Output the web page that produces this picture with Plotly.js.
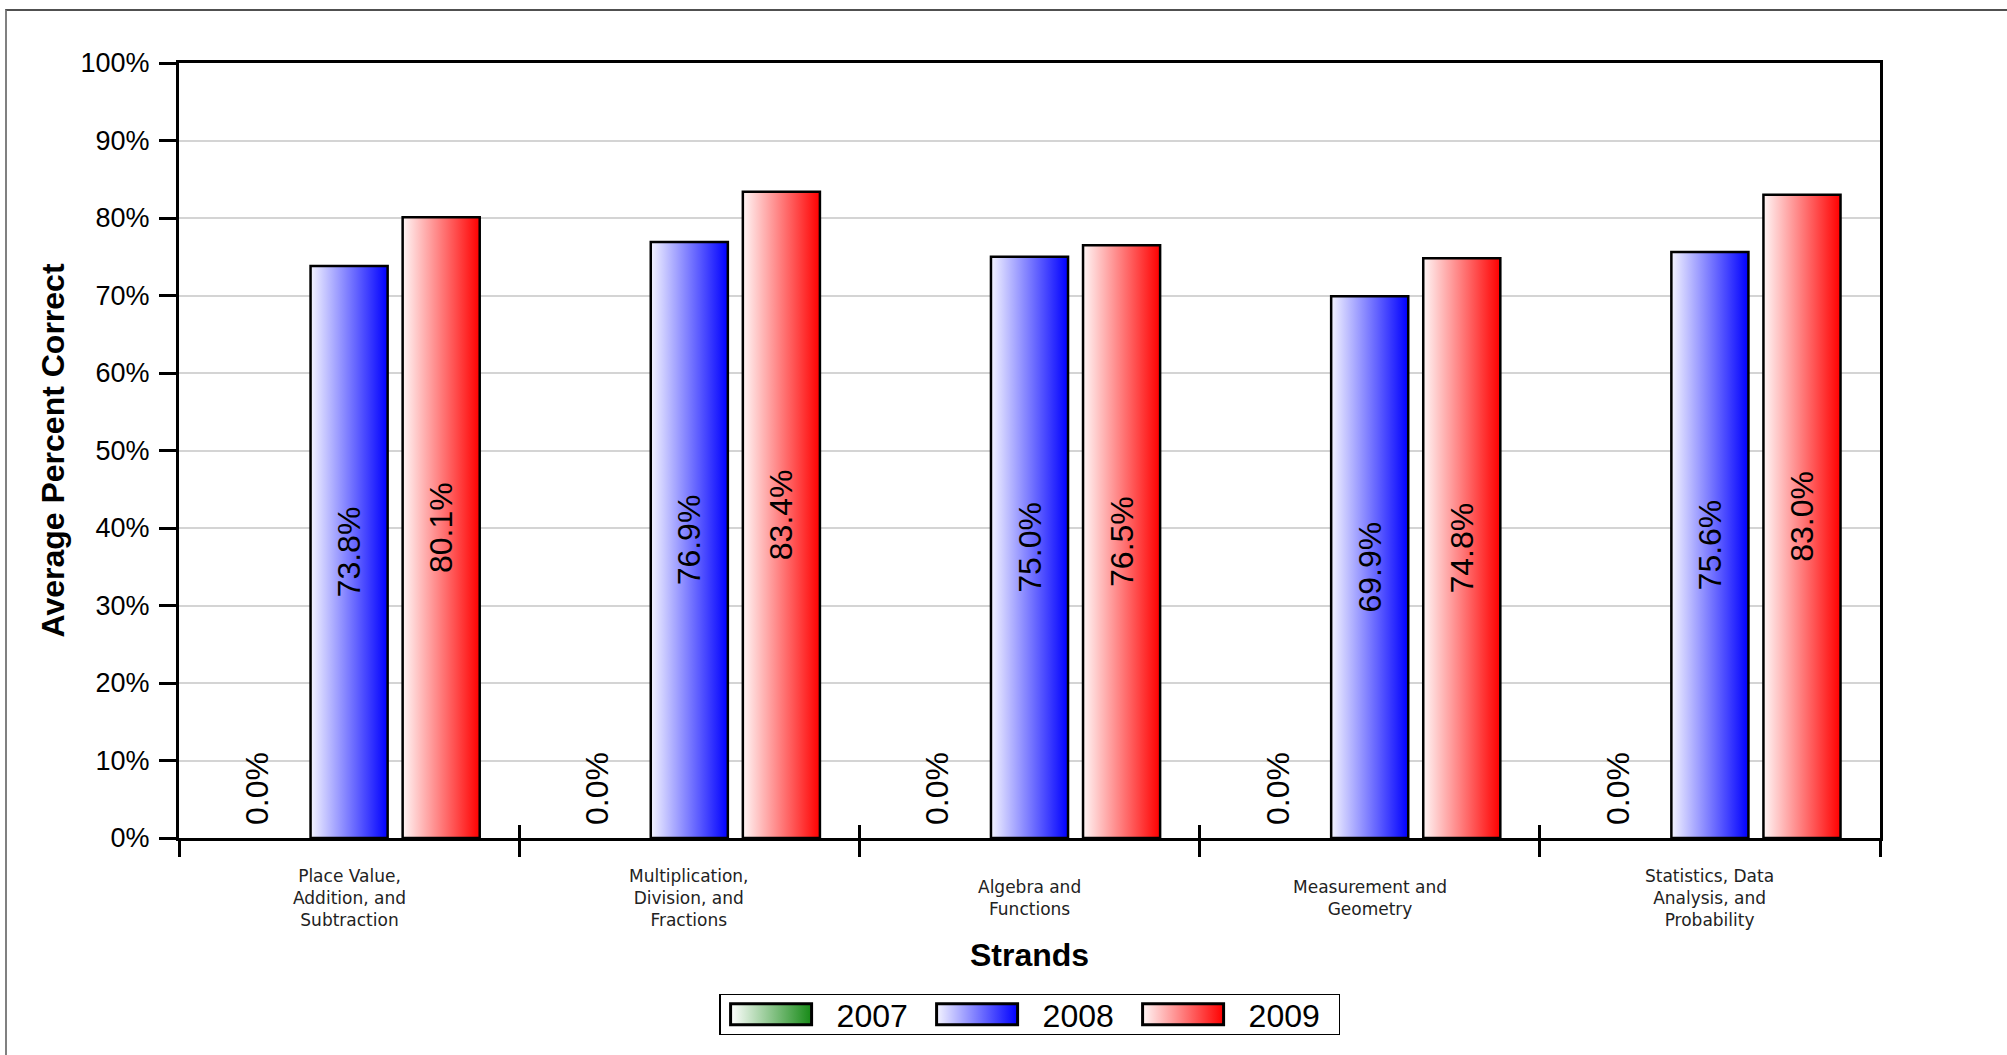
<!DOCTYPE html>
<html>
<head>
<meta charset="utf-8">
<script src="https://cdn.plot.ly/plotly-3.0.1.min.js"></script>
<style>
  html, body { margin: 0; padding: 0; background: #fff; overflow: hidden; }
  #chart { width: 2007px; height: 1055px; position: relative; }
  #frame { position: absolute; left: 5px; top: 9px; width: 2100px; height: 1200px;
           border-left: 2px solid #808080; border-top: 2px solid #505050; pointer-events: none; }
</style>
</head>
<body>
<div id="chart"></div>
<div id="frame"></div>
<script>
// ---- data ----
const categories = [
  "Place Value, Addition, and Subtraction",
  "Multiplication, Division, and Fractions",
  "Algebra and Functions",
  "Measurement and Geometry",
  "Statistics, Data Analysis, and Probability"
];
const categoryLabels = [
  "Place Value,<br>Addition, and<br>Subtraction",
  "Multiplication,<br>Division, and<br>Fractions",
  "Algebra and<br>Functions",
  "Measurement and<br>Geometry",
  "Statistics, Data<br>Analysis, and<br>Probability"
];
const seriesNames = ["2007", "2008", "2009"];
const values2007 = [0.0, 0.0, 0.0, 0.0, 0.0];
const values2008 = [73.8, 76.9, 75.0, 69.9, 75.6];
const values2009 = [80.1, 83.4, 76.5, 74.8, 83.0];
const yTickVals = [0, 10, 20, 30, 40, 50, 60, 70, 80, 90, 100];
const yTickText = ["0%", "10%", "20%", "30%", "40%", "50%", "60%", "70%", "80%", "90%", "100%"];

// ---- styles ----
const FONT = "Liberation Sans, Arial, sans-serif";
const CAT_FONT = "DejaVu Sans, Verdana, sans-serif";
const baseColors = ["#168a16", "#0000ff", "#ff0000"];
const gradIds = ["grad2007", "grad2008", "grad2009"];
const gradStart = ["#ffffff", "#f4f4ff", "#fff6f6"];
const outlineWidths = [0, 2.5, 2.5];

function barTrace(i, vals, textpos) {
  return {
    type: "bar",
    name: seriesNames[i],
    x: categories,
    y: vals,
    marker: { color: baseColors[i], line: { color: "#000", width: outlineWidths[i] } },
    texttemplate: "%{y:.1f}%",
    textposition: textpos,
    insidetextanchor: "middle",
    textangle: -90,
    constraintext: "none",
    cliponaxis: false,
    textfont: { family: FONT, size: 32, color: "#000" },
    insidetextfont: { family: FONT, size: 32, color: "#000" },
    outsidetextfont: { family: FONT, size: 32, color: "#000" },
    hoverinfo: "skip"
  };
}

const traces = [
  barTrace(0, values2007, "outside"),
  barTrace(1, values2008, "inside"),
  barTrace(2, values2009, "inside"),
  // carrier for the upper half of the crossing category ticks (draws nothing)
  { type: "scatter", mode: "none", x: categories, y: values2007, xaxis: "x2", yaxis: "y",
    showlegend: false, hoverinfo: "skip" }
];

const annotations = categories.map((c, i) => ({
  x: c, xref: "x", y: 0, yref: "paper",
  yshift: -60, yanchor: "middle", xanchor: "center",
  text: categoryLabels[i], showarrow: false, align: "center",
  font: { family: CAT_FONT, size: 17, color: "#222" }
}));

const layout = {
  width: 2007, height: 1055,
  margin: { l: 179, r: 127, t: 63, b: 217 },
  paper_bgcolor: "rgba(0,0,0,0)",
  plot_bgcolor: "#fff",
  barmode: "group",
  bargap: 0.188,
  bargroupgap: 0.163,
  showlegend: true,
  legend: {
    orientation: "h", xref: "container", yref: "container",
    x: 0.513, xanchor: "center", y: 0.0384, yanchor: "middle",
    bgcolor: "#fff", bordercolor: "#000", borderwidth: 1.5,
    font: { family: FONT, size: 32, color: "#000" },
    itemwidth: 106, entrywidth: 85, traceorder: "normal"
  },
  xaxis: {
    type: "category", categoryarray: categories, range: [-0.5, 4.5],
    showticklabels: false,
    ticks: "outside", tickson: "boundaries", ticklen: 16, tickwidth: 3, tickcolor: "#000",
    showline: true, linecolor: "#000", linewidth: 3, mirror: true,
    showgrid: false, zeroline: false,
    title: { text: "Strands", font: { family: FONT, size: 32, color: "#000", weight: "bold" }, standoff: 104 }
  },
  xaxis2: {
    type: "category", categoryarray: categories, range: [-0.5, 4.5],
    overlaying: "x", anchor: "y", side: "bottom",
    showticklabels: false, showline: false, showgrid: false, zeroline: false,
    ticks: "inside", tickson: "boundaries", ticklen: 13, tickwidth: 3, tickcolor: "#000"
  },
  yaxis: {
    range: [0, 100], tickmode: "array", tickvals: yTickVals, ticktext: yTickText,
    ticks: "outside", ticklen: 17, tickwidth: 3, tickcolor: "#000",
    ticklabelstandoff: 4,
    tickfont: { family: FONT, size: 27, color: "#000" },
    showline: true, linecolor: "#000", linewidth: 3, mirror: true,
    showgrid: true, gridcolor: "#d4d4d4", gridwidth: 2, zeroline: false,
    title: { text: "Average Percent Correct", font: { family: FONT, size: 32, color: "#000", weight: "bold" }, standoff: 7 }
  },
  annotations: annotations
};

const gd = document.getElementById("chart");
Plotly.newPlot(gd, traces, layout, { staticPlot: true, displayModeBar: false }).then(() => {
  const NS = "http://www.w3.org/2000/svg";
  const defs = gd.querySelector("svg.main-svg defs");
  gradIds.forEach((id, i) => {
    const lg = document.createElementNS(NS, "linearGradient");
    lg.setAttribute("id", id);
    lg.setAttribute("x1", "0"); lg.setAttribute("y1", "0");
    lg.setAttribute("x2", "1"); lg.setAttribute("y2", "0");
    const s1 = document.createElementNS(NS, "stop");
    s1.setAttribute("offset", "0"); s1.setAttribute("stop-color", gradStart[i]);
    const s2 = document.createElementNS(NS, "stop");
    s2.setAttribute("offset", "1"); s2.setAttribute("stop-color", baseColors[i]);
    lg.appendChild(s1); lg.appendChild(s2);
    defs.appendChild(lg);
  });
  gd.querySelectorAll(".barlayer .trace").forEach((tr, i) => {
    tr.querySelectorAll(".point path").forEach(p => { p.style.fill = "url(#" + gradIds[i] + ")"; });
    if (i === 0) {
      // lift the outside "0.0%" labels a little off the axis, as in the original
      tr.querySelectorAll(".point text").forEach(t => {
        const tf = t.getAttribute("transform") || "";
        t.setAttribute("transform", "translate(0,-10) " + tf);
      });
    }
  });
  gd.querySelectorAll(".legend .traces").forEach((tr, i) => {
    tr.querySelectorAll("path.legendbar, .legendpoints path").forEach(p => {
      p.setAttribute("d", "M33,10.5H-48V-10.5H33Z");
      p.style.fill = "url(#" + gradIds[i] + ")";
      p.style.stroke = "#000";
      p.style.strokeWidth = "3px";
    });
  });
  // tighten the legend frame to the original's height, keeping it centred
  const bg = gd.querySelector(".legend rect.bg");
  if (bg) {
    const h = parseFloat(bg.getAttribute("height"));
    const y = parseFloat(bg.getAttribute("y") || "0");
    const nh = 40;
    if (h > nh) {
      bg.setAttribute("y", y + (h - nh) / 2);
      bg.setAttribute("height", nh);
    }
  }
});
</script>
</body>
</html>
